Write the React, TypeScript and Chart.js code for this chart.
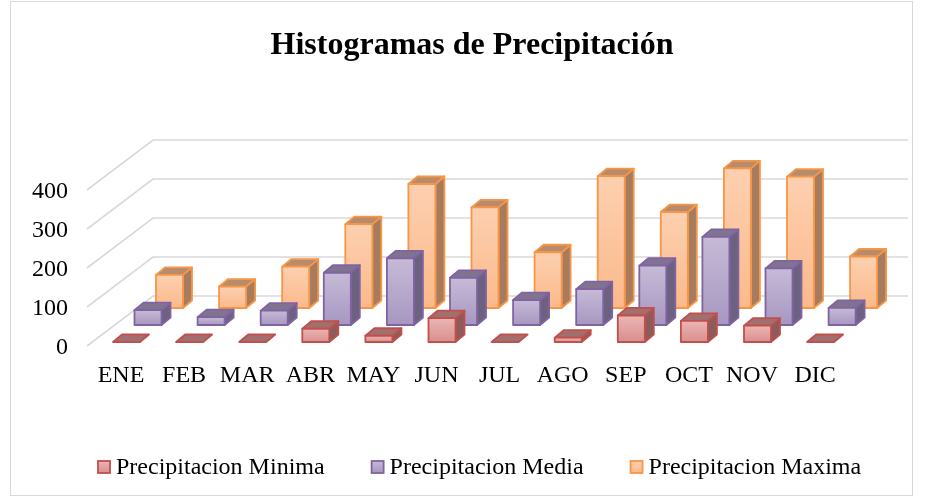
import React, { useEffect, useRef } from "react";
import { Chart, registerables } from "chart.js";
Chart.register(...registerables);

// ---- data ----
const months = ["ENE", "FEB", "MAR", "ABR", "MAY", "JUN", "JUL", "AGO", "SEP", "OCT", "NOV", "DIC"];
const minima = [0, 0, 0, 34, 16, 61, 0, 11, 68, 54, 42, 0];
const media = [38, 20, 37, 134, 171, 121, 64, 92, 152, 226, 145, 44];
const maxima = [85, 55, 106, 215, 318, 258, 143, 338, 246, 358, 337, 132];
const seriesNames = ["Precipitacion Minima", "Precipitacion Media", "Precipitacion Maxima"];
const yTicks = [0, 100, 200, 300, 400];
const titleText = "Histogramas de Precipitación";

// ---- styles ----
const styles = [
  { border: "#c0504d", fTop: "#ebb5b4", fBot: "#d98f8d", top: "#a1706e", side: "#8d5c5a", ox: 5.5, oy: -4 },
  { border: "#8064a2", fTop: "#c6bad7", fBot: "#a797c1", top: "#807390", side: "#6c6181", ox: 27, oy: -21 },
  { border: "#f79646", fTop: "#fdd0b0", fBot: "#fbb98b", top: "#b88b6d", side: "#a67b5e", ox: 48.5, oy: -38 },
];
const SERIF = '"Liberation Serif", "Times New Roman", serif';

function drawBox(ctx: CanvasRenderingContext2D, l: number, r: number, t: number, b: number, dx: number, dy: number, st: any) {
  ctx.lineWidth = 1.8;
  ctx.lineJoin = "round";
  ctx.strokeStyle = st.border;
  const h = b - t;
  if (h > 0.5) {
    ctx.beginPath();
    ctx.moveTo(r, b);
    ctx.lineTo(r + dx, b + dy);
    ctx.lineTo(r + dx, t + dy);
    ctx.lineTo(r, t);
    ctx.closePath();
    ctx.fillStyle = st.side;
    ctx.fill();
    ctx.stroke();
  }
  ctx.beginPath();
  ctx.moveTo(l, t);
  ctx.lineTo(l + dx, t + dy);
  ctx.lineTo(r + dx, t + dy);
  ctx.lineTo(r, t);
  ctx.closePath();
  ctx.fillStyle = st.top;
  ctx.fill();
  ctx.stroke();
  if (h > 0.5) {
    const g = ctx.createLinearGradient(0, t, 0, b);
    g.addColorStop(0, st.fTop);
    g.addColorStop(1, st.fBot);
    ctx.beginPath();
    ctx.rect(l, t, r - l, h);
    ctx.fillStyle = g;
    ctx.fill();
    ctx.stroke();
  }
}

const threeD = {
  id: "threeD",
  beforeDatasetsDraw(chart: any) {
    const ctx: CanvasRenderingContext2D = chart.ctx;
    const y = chart.scales.y;
    const x = chart.scales.x;
    ctx.save();
    ctx.strokeStyle = "#d9d9d9";
    ctx.lineWidth = 1;
    ctx.strokeRect(10.5, 1.5, 902, 494);
    // title
    ctx.fillStyle = "#000";
    ctx.font = `bold 32px ${SERIF}`;
    ctx.textAlign = "center";
    ctx.textBaseline = "alphabetic";
    ctx.fillText(titleText, 472, 54);
    // gridlines
    const gx0 = 87, DX = 66, DY = -50, gxEnd = 908;
    ctx.strokeStyle = "#d9d9d9";
    ctx.lineWidth = 1.6;
    yTicks.forEach((t) => {
      const py = y.getPixelForValue(t);
      ctx.beginPath();
      ctx.moveTo(gx0, py);
      ctx.lineTo(gx0 + DX, py + DY);
      ctx.lineTo(gxEnd, py + DY);
      ctx.stroke();
    });
    // y tick labels
    ctx.fillStyle = "#000";
    ctx.font = `24px ${SERIF}`;
    ctx.textAlign = "right";
    yTicks.forEach((t) => ctx.fillText(String(t), 68, y.getPixelForValue(t) + 8));
    // x labels
    ctx.textAlign = "center";
    months.forEach((m, i) => ctx.fillText(m, x.getPixelForValue(i), 382));
    // legend
    ctx.font = `24px ${SERIF}`;
    ctx.textAlign = "left";
    let lx = 98;
    seriesNames.forEach((n, k) => {
      const st = styles[k];
      const g = ctx.createLinearGradient(0, 461, 0, 473);
      g.addColorStop(0, st.fTop);
      g.addColorStop(1, st.fBot);
      ctx.fillStyle = g;
      ctx.fillRect(lx, 461, 12, 12);
      ctx.strokeStyle = st.border;
      ctx.lineWidth = 1.8;
      ctx.strokeRect(lx, 461, 12, 12);
      ctx.fillStyle = "#000";
      ctx.fillText(n, lx + 18, 474);
      lx += 18 + ctx.measureText(n).width + 47;
    });
    ctx.restore();
  },
  afterDatasetsDraw(chart: any) {
    const ctx: CanvasRenderingContext2D = chart.ctx;
    ctx.save();
    for (let k = 2; k >= 0; k--) {
      const meta = chart.getDatasetMeta(k);
      const st = styles[k];
      meta.data.forEach((el: any) => {
        const p = el.getProps(["x", "y", "base", "width"], true);
        const l = p.x - p.width / 2 + st.ox;
        const r = p.x + p.width / 2 + st.ox;
        drawBox(ctx, l, r, p.y + st.oy, p.base + st.oy, 9, -7.5, st);
      });
    }
    ctx.restore();
  },
};

export default function App() {
  const ref = useRef<HTMLCanvasElement>(null);
  useEffect(() => {
    if (!ref.current) return;
    const chart = new Chart(ref.current, {
      type: "bar",
      data: {
        labels: months,
        datasets: [minima, media, maxima].map((d, k) => ({
          label: seriesNames[k],
          data: d,
          backgroundColor: "rgba(0,0,0,0)",
          borderWidth: 0,
        })),
      },
      options: {
        responsive: false,
        devicePixelRatio: 1,
        animation: false,
        events: [],
        layout: { padding: { left: 89.45, right: 83.35, top: 190, bottom: 152 } },
        datasets: { bar: { grouped: false, categoryPercentage: 1, barPercentage: 0.428 } },
        plugins: { legend: { display: false }, title: { display: false }, tooltip: { enabled: false } },
        scales: {
          x: { display: false, offset: true },
          y: { display: false, min: 0, max: 400, ticks: { stepSize: 100 } },
        },
      },
      plugins: [threeD],
    } as any);
    return () => chart.destroy();
  }, []);
  return (
    <div style={{ position: "absolute", left: 0, top: 0, width: 930, height: 498, background: "#fff" }}>
      <canvas ref={ref} width={930} height={498} style={{ display: "block" }} />
    </div>
  );
}
